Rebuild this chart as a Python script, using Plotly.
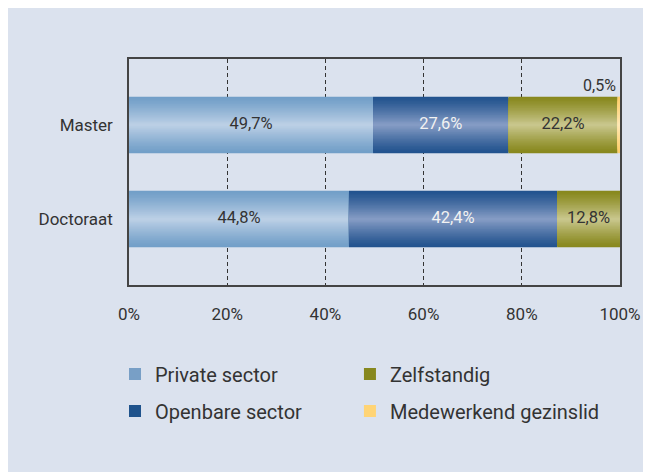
import plotly.graph_objects as go
import numpy as np

categories = ["Master", "Doctoraat"]
series_names = ["Private sector", "Openbare sector", "Zelfstandig", "Medewerkend gezinslid"]
private_sector = [49.7, 44.8]
openbare_sector = [27.6, 42.4]
zelfstandig = [22.2, 12.8]
medewerkend = [0.5, 0.0]
x_ticks = [0, 20, 40, 60, 80, 100]
x_tick_labels = ["0%", "20%", "40%", "60%", "80%", "100%"]

series_values = [private_sector, openbare_sector, zelfstandig, medewerkend]
edge_colors = [(0x72, 0x9f, 0xc8), (0x22, 0x53, 0x8e), (0x88, 0x88, 0x1e), (0xff, 0xcf, 0x6c)]
center_colors = [(0xbb, 0xcf, 0xe5), (0x84, 0x9b, 0xc4), (0xc8, 0xc6, 0x8c), (0xff, 0xe8, 0xb4)]
legend_colors = ["#789fc6", "#1f538c", "#87881e", "#ffd475"]
label_colors = ["#333333", "#f2f2f2", "#333333", "#333333"]
legend_ids = ["legend", "legend2", "legend3", "legend4"]

FONT = "Roboto"
BAR_W = 0.6
N = 20

fig = go.Figure()

bases = np.zeros(len(categories))
label_x, label_y, label_t, label_c = [], [], [], []
for s, (name, vals) in enumerate(zip(series_names, series_values)):
    vals = np.array(vals, dtype=float)
    for k in range(N):
        t = (k / (N - 1)) ** 1.2
        c = tuple(int(round(e + (m - e) * t)) for e, m in zip(edge_colors[s], center_colors[s]))
        col = "rgb(%d,%d,%d)" % c
        w = BAR_W * (1 - k / N)
        fig.add_trace(go.Bar(
            y=categories, x=vals, base=bases, orientation="h",
            width=[w] * len(categories),
            marker=dict(color=col, line=dict(width=0)),
            name=name, showlegend=False, hoverinfo="skip",
            legendgroup=name,
        ))
    fig.add_trace(go.Bar(
        y=[None], x=[None], orientation="h", name=name,
        marker=dict(color=legend_colors[s], line=dict(width=0)),
        showlegend=True, legend=legend_ids[s], legendgroup=name,
    ))
    for i, v in enumerate(vals):
        if v >= 1:
            label_x.append(bases[i] + v / 2)
            label_y.append(categories[i])
            label_t.append(("%.1f" % v).replace(".", ",") + "%")
            label_c.append(label_colors[s])
    bases = bases + vals

fig.add_trace(go.Scatter(
    x=label_x, y=label_y, text=label_t, mode="text",
    textfont=dict(family=FONT, size=16.5, color=label_c),
    showlegend=False, hoverinfo="skip",
))

cum_master = sum(v[0] for v in series_values)
fig.add_annotation(
    x=cum_master, y=categories[0], text=("%.1f" % medewerkend[0]).replace(".", ",") + "%",
    showarrow=False, xanchor="right", yanchor="bottom", yshift=28, xshift=-2,
    font=dict(family=FONT, size=16, color="#333333"),
)

legend_pos = {
    "legend": (-0.0285, (277 - 366) / 226),
    "legend2": (-0.0285, (277 - 403) / 226),
    "legend3": (0.450, (277 - 366) / 226),
    "legend4": (0.450, (277 - 403) / 226),
}
legend_layout = {
    lid: dict(orientation="v", x=px, xanchor="left", y=py, yanchor="middle",
              bgcolor="rgba(0,0,0,0)", font=dict(size=20, color="#333333"))
    for lid, (px, py) in legend_pos.items()
}

fig.update_layout(
    width=651, height=472,
    margin=dict(l=121, r=39, t=51, b=195),
    paper_bgcolor="#dbe2ee", plot_bgcolor="#dbe2ee",
    barmode="overlay",
    font=dict(family=FONT, size=17, color="#333333"),
    xaxis=dict(range=[0, 100], tickvals=x_ticks, ticktext=x_tick_labels,
               showgrid=True, gridcolor="#333333", griddash="4px,3px", gridwidth=1,
               zeroline=False, showline=True, linecolor="#444444", linewidth=1.5,
               mirror=True, ticks="", ticklabelstandoff=13,
               tickfont=dict(size=17, color="#333333"), fixedrange=True),
    yaxis=dict(range=[-0.7, 1.7], categoryorder="array", categoryarray=categories[::-1],
               showgrid=False, zeroline=False, showline=True, linecolor="#444444",
               linewidth=1.5, mirror=True, ticks="", ticklabelstandoff=11,
               tickfont=dict(size=17, color="#333333"), fixedrange=True),
    showlegend=True,
    **legend_layout,
)

fig.write_html("out.html")
